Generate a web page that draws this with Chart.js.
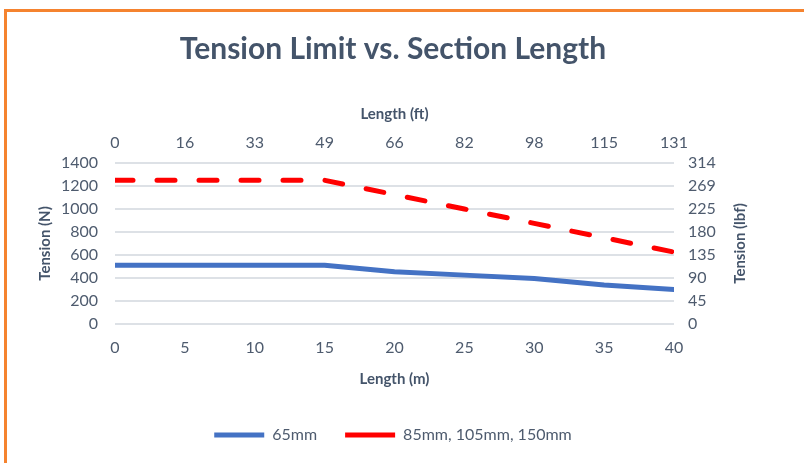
<!DOCTYPE html>
<html>
<head>
<meta charset="utf-8">
<script src="https://cdn.jsdelivr.net/npm/chart.js@4.4.1/dist/chart.umd.min.js"></script>
<style>
  html, body { margin: 0; padding: 0; background: #fff; }
  #wrap { position: relative; width: 804px; height: 463px; overflow: hidden; }
  #frame { position: absolute; left: 4px; top: 9px; width: 900px; height: 600px;
           border-left: 3px solid #F5832F; border-top: 3px solid #F5832F; }
  #chart { position: absolute; left: 0; top: 0; }
</style>
</head>
<body>
<div id="wrap">
  <div id="frame"></div>
  <canvas id="chart" width="804" height="463"></canvas>
</div>
<script>
// valores
const lengthM = [0, 5, 10, 15, 20, 25, 30, 35, 40];
const tension65 = [510, 510, 510, 510, 455, 425, 395, 340, 300];
const tension85 = [1250, 1250, 1250, 1250, 1125, 1000, 875, 750, 625];
const lengthFtLabels = ['0', '16', '33', '49', '66', '82', '98', '115', '131'];
const tensionLbfLabels = ['0', '45', '90', '135', '180', '225', '269', '314'];

const corTexto = '#4e5b6e';
const corTitulo = '#44546A';
const fonte = 'Lato';

function pontos(ys) {
    return lengthM.map((x, i) => ({ x: x, y: ys[i] }));
}

// titulo do eixo direito lido de baixo para cima, como no Excel
const tituloDireita = {
    id: 'tituloDireita',
    afterDraw(chart) {
        const s = chart.scales.y2;
        const area = chart.chartArea;
        const ctx = chart.ctx;
        ctx.save();
        ctx.translate(s.right - 39, (area.top + area.bottom) / 2);
        ctx.rotate(-Math.PI / 2);
        ctx.font = 'bold 15px ' + fonte;
        ctx.fillStyle = corTitulo;
        ctx.textAlign = 'center';
        ctx.textBaseline = 'middle';
        ctx.fillText('Tension (lbf)', 0, 0);
        ctx.restore();
    }
};

new Chart(document.getElementById('chart'), {
    type: 'line',
    data: {
        datasets: [
            {
                label: '65mm',
                data: pontos(tension65),
                borderColor: '#4472C4',
                backgroundColor: '#4472C4',
                borderWidth: 5,
                borderCapStyle: 'round',
                borderJoinStyle: 'round',
                pointRadius: 0,
                tension: 0,
                xAxisID: 'x',
                yAxisID: 'y'
            },
            {
                label: '85mm, 105mm, 150mm',
                data: pontos(tension85),
                borderColor: '#FF0000',
                backgroundColor: '#FF0000',
                borderWidth: 5,
                borderDash: [18, 24],
                borderCapStyle: 'round',
                borderJoinStyle: 'round',
                pointRadius: 0,
                tension: 0,
                xAxisID: 'x',
                yAxisID: 'y'
            }
        ]
    },
    options: {
        responsive: false,
        animation: false,
        layout: {
            padding: { top: 10, left: 7, right: 25, bottom: 10 }
        },
        scales: {
            x: {
                type: 'linear',
                position: 'bottom',
                min: 0,
                max: 40,
                grid: { display: false, drawTicks: false },
                border: { display: false },
                ticks: { stepSize: 5, padding: 14, color: corTexto, font: { family: fonte, size: 16 } },
                title: { display: true, text: 'Length (m)', color: corTitulo, font: { family: fonte, size: 15, weight: 'bold' }, padding: { top: 0, bottom: 11 } },
                afterFit: (s) => { s.height = 75; }
            },
            x2: {
                type: 'linear',
                position: 'top',
                min: 0,
                max: 40,
                grid: { display: false, drawTicks: false },
                border: { display: false },
                ticks: {
                    stepSize: 5,
                    padding: 11,
                    color: corTexto,
                    font: { family: fonte, size: 16 },
                    callback: (v, i) => lengthFtLabels[i]
                },
                title: { display: true, text: 'Length (ft)', color: corTitulo, font: { family: fonte, size: 15, weight: 'bold' }, padding: { top: 9, bottom: 0 } },
                afterFit: (s) => { s.height = 67; }
            },
            y: {
                position: 'left',
                min: 0,
                max: 1400,
                grid: { color: '#DDE1E6', lineWidth: 2, drawTicks: false },
                border: { display: false },
                ticks: {
                    stepSize: 200,
                    padding: 17,
                    color: corTexto,
                    font: { family: fonte, size: 16 },
                    callback: (v) => String(v)
                },
                title: { display: true, text: 'Tension (N)', color: corTitulo, font: { family: fonte, size: 15, weight: 'bold' }, padding: { top: 29, bottom: 0 } },
                afterFit: (s) => { s.width = 108; }
            },
            y2: {
                position: 'right',
                min: 0,
                max: 1400,
                grid: { display: false, drawTicks: false },
                border: { display: false },
                ticks: {
                    stepSize: 200,
                    padding: 14,
                    color: corTexto,
                    font: { family: fonte, size: 16 },
                    callback: (v, i) => tensionLbfLabels[i]
                },
                afterFit: (s) => { s.width = 105; }
            }
        },
        plugins: {
            title: {
                display: true,
                text: 'Tension Limit vs. Section Length',
                color: corTitulo,
                font: { family: fonte, size: 30, weight: 'bold' },
                padding: { top: 21, bottom: 29 }
            },
            legend: {
                display: true,
                position: 'bottom',
                labels: {
                    usePointStyle: true,
                    pointStyle: 'line',
                    pointStyleWidth: 50,
                    padding: 28,
                    color: corTexto,
                    font: { family: fonte, size: 16 }
                }
            },
            tooltip: { enabled: false }
        }
    },
    plugins: [tituloDireita]
});
</script>
</body>
</html>
